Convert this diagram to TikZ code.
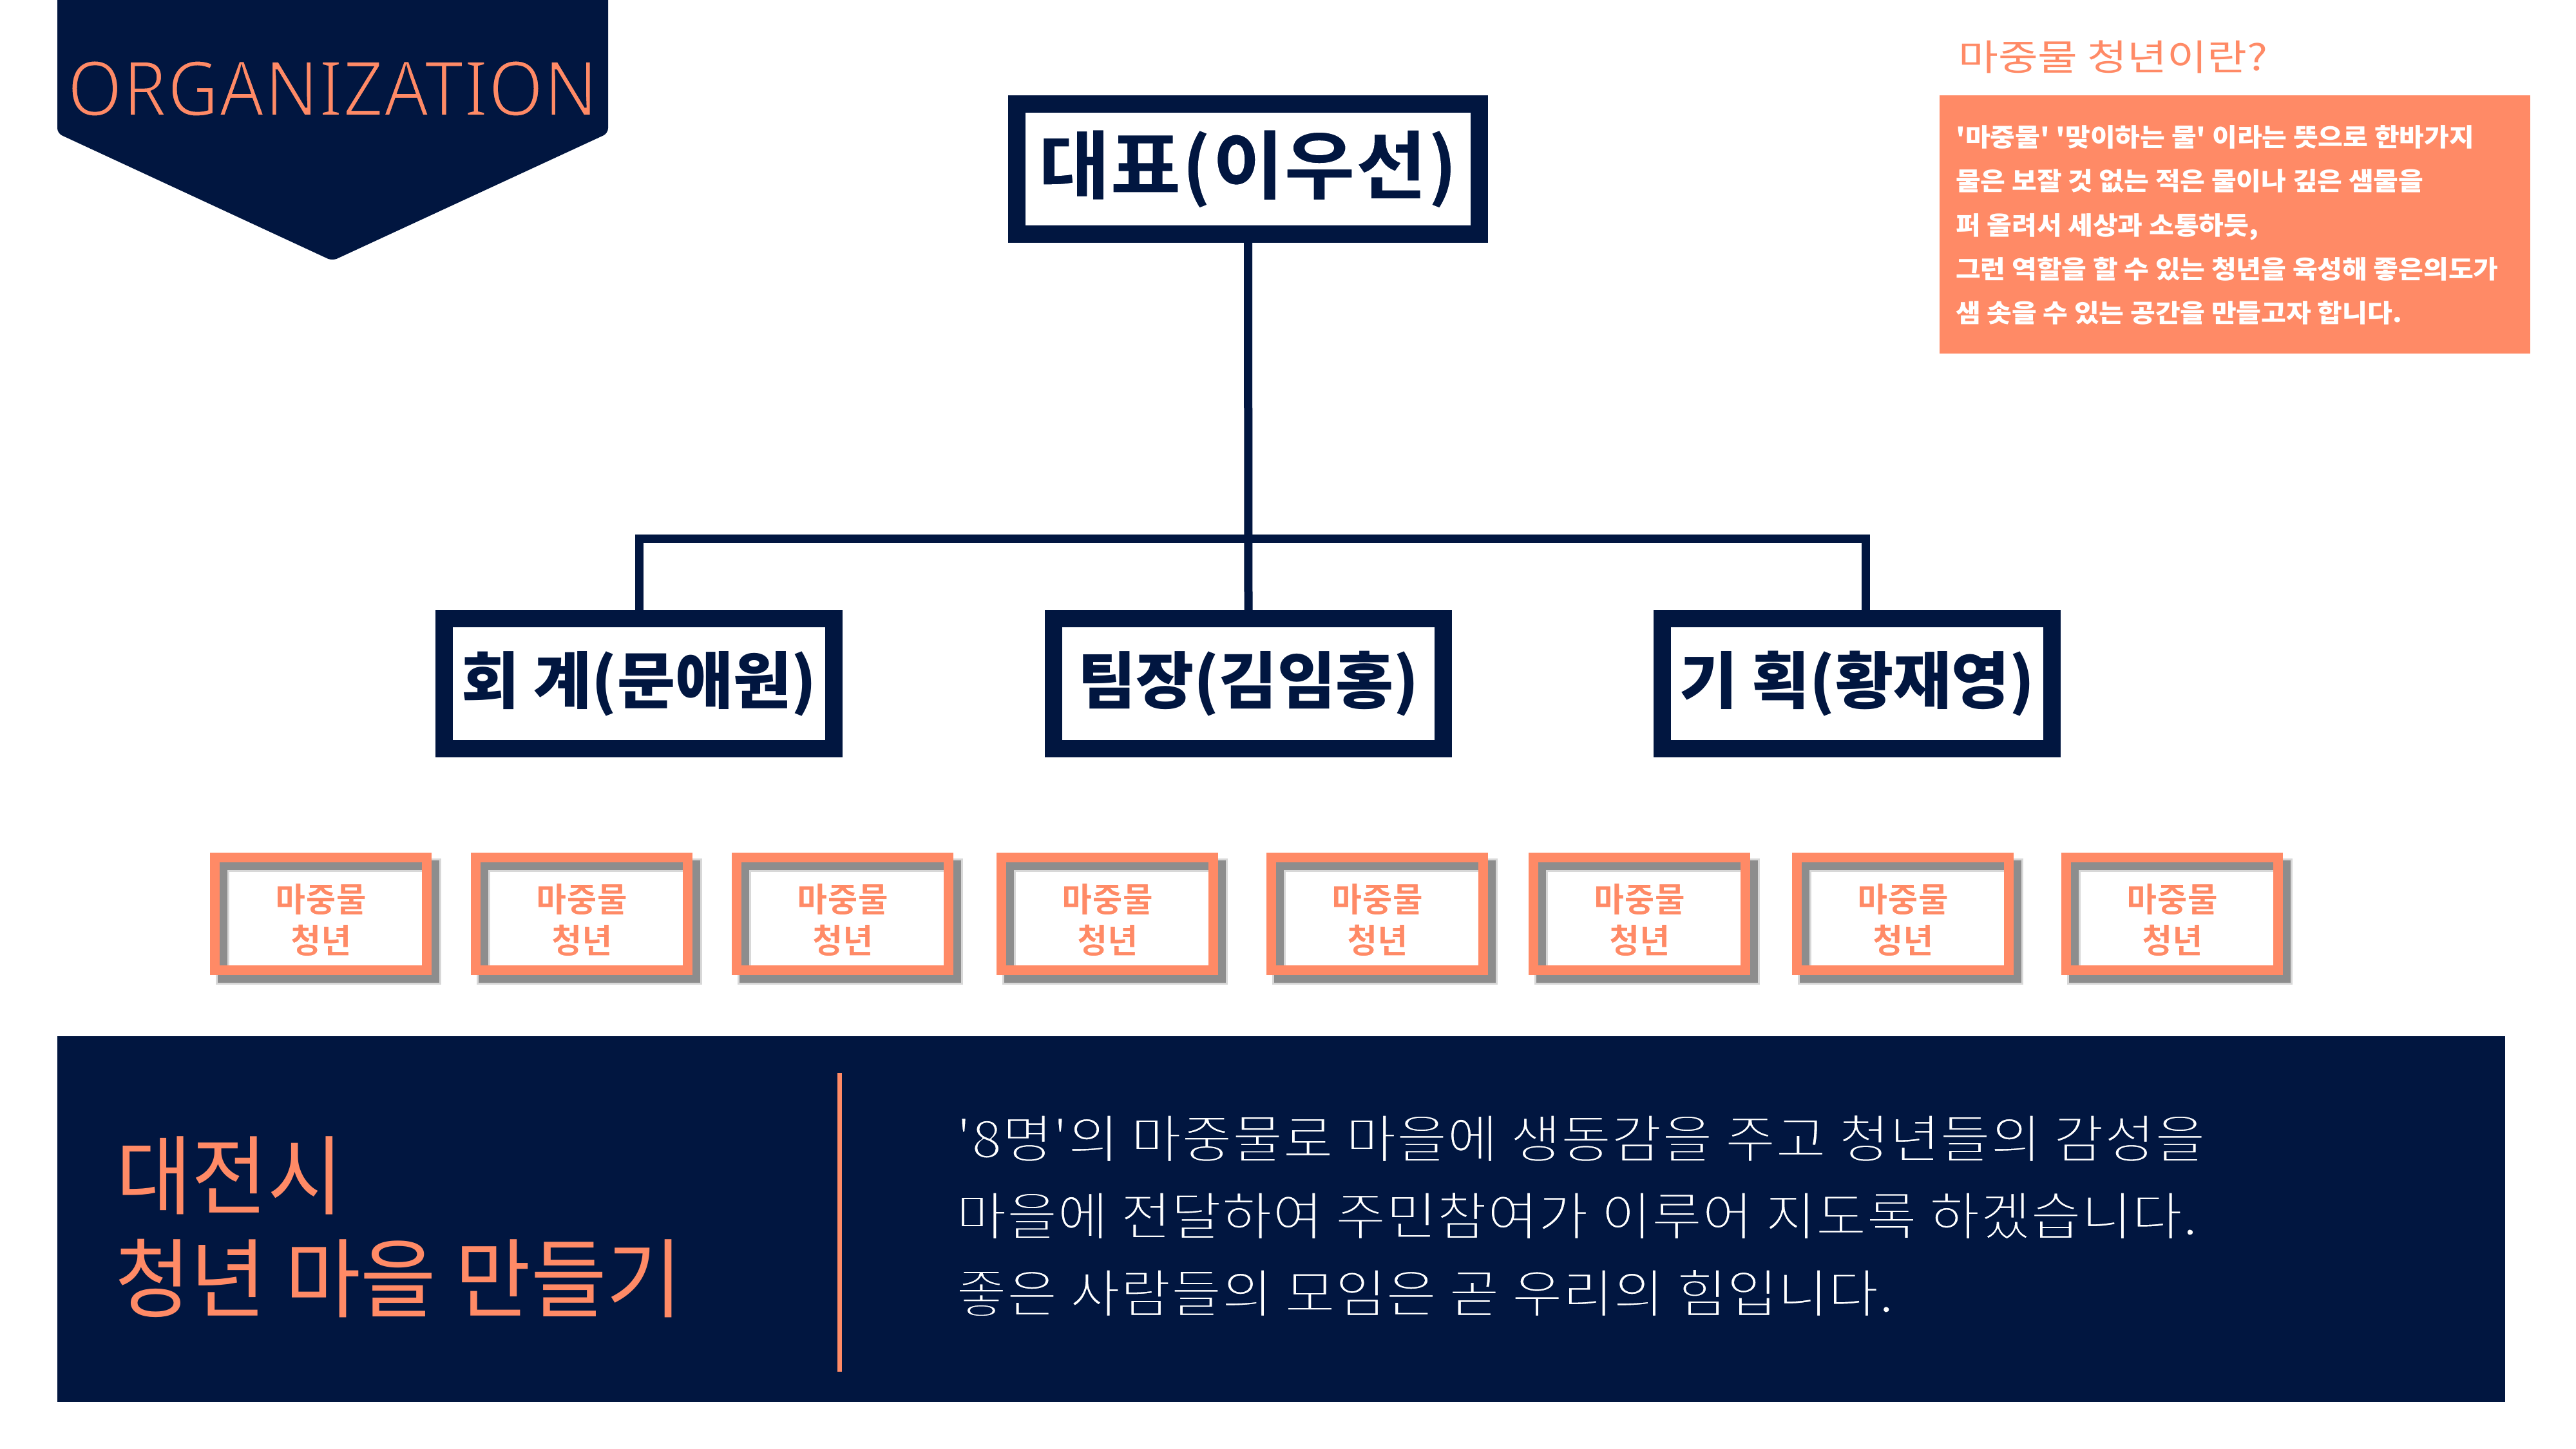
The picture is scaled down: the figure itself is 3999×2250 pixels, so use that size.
\documentclass[tikz,border=0pt]{standalone}
\usepackage{fontspec}
\setmainfont{Noto Sans CJK KR}
\newfontfamily\krTop[FakeStretch=1.03]{Noto Sans CJK KR}
\newfontfamily\krMid[FakeStretch=1.02]{Noto Sans CJK KR}
\newfontfamily\krSmall[FakeStretch=0.97]{Noto Sans CJK KR}
\newfontfamily\krBody[FakeStretch=1.055]{Noto Sans CJK KR}
\newfontfamily\krC[FakeStretch=0.955]{Noto Sans CJK KR}
\newfontfamily\krW[FakeStretch=1.08]{Noto Sans CJK KR}
\newfontfamily\krH[FakeStretch=1.2]{Noto Sans CJK KR}
\newfontfamily\latinA[FakeStretch=0.93]{Noto Sans}
\definecolor{navy}{RGB}{1,22,64}
\definecolor{coral}{RGB}{255,138,102}
\definecolor{shadowgray}{RGB}{128,128,128}
\newcommand\thinon[1]{\special{pdf:literal direct 2 Tr #1 w 0.004 0.086 0.251 RG}}
\newcommand\thinwhite[1]{\special{pdf:literal direct 2 Tr #1 w 1 1 1 RG}}
\newcommand\thinoff{\special{pdf:literal direct 0 Tr}}
\tikzset{
  conn/.style={draw=navy, line width=13pt, line join=miter},
  bigbox/.style={draw=navy, line width=27pt, fill=white, inner sep=0pt,
    minimum height=202pt, text=navy},
  midlabel/.style={bigbox, minimum width=605pt,
    font=\krMid\bfseries\fontsize{96}{110}\selectfont},
  smallbox/.style={draw=coral, line width=15pt, inner sep=0pt,
    minimum width=329pt, minimum height=175pt},
  smalltext/.style={inner sep=0pt, align=center, text=coral,
    font=\krSmall\bfseries\fontsize{53}{64}\selectfont},
  boxshadow/.style={draw=shadowgray, line width=15pt, opacity=0.85},
  boxhalo/.style={draw=shadowgray, line width=21pt, opacity=0.3},
  bodytext/.style={anchor=base west, inner sep=0pt, text=white,
    font=\krBody\fontsize{81}{96}\selectfont},
  notetext/.style={anchor=base west, inner sep=0pt, text=white,
    font=\krW\bfseries\fontsize{39}{50}\selectfont},
  bigtitle/.style={anchor=base west, inner sep=0pt, text=coral,
    font=\krC\fontsize{134}{160}\selectfont}
}
\begin{document}
\begin{tikzpicture}[x=1pt,y=-1pt]
\useasboundingbox (0,0) rectangle (3999,2250);
\fill[white] (0,0) rectangle (3999,2250);

% banner
\fill[navy, rounded corners=8pt] (89,-30) -- (89,207) -- (516,405) -- (944,207) -- (944,-30) -- cycle;
\node[anchor=base, inner sep=0pt, text=coral, font=\latinA\fontsize{119}{130}\selectfont] (org) at (516,180) {\thinon{3.5}ORGANIZATION\thinoff};

% top-right note
\node[anchor=base west, inner sep=0pt, text=coral, font=\krH\fontsize{56}{60}\selectfont] (qtitle) at (3040,110) {마중물 청년이란?};
\fill[coral] (3011,148) rectangle (3928,549);
\node[notetext] (n1) at (3036,228) {'마중물' '맞이하는 물' 이라는 뜻으로 한바가지};
\node[notetext] (n2) at (3036,296) {물은 보잘 것 없는 적은 물이나 깊은 샘물을};
\node[notetext] (n3) at (3036,364) {퍼 올려서 세상과 소통하듯,};
\node[notetext] (n4) at (3036,432) {그런 역할을 할 수 있는 청년을 육성해 좋은의도가};
\node[notetext] (n5) at (3036,500) {샘 솟을 수 있는 공간을 만들고자 합니다.};

% hierarchy
\node[bigbox, minimum width=718pt, font=\krTop\bfseries\fontsize{117}{130}\selectfont] (top) at (1937.5,262.5) {\thinwhite{2.5}대표(이우선)\thinoff};
\node[midlabel] (m1) at (992,1061.5) {회 계(문애원)};
\node[midlabel] (m2) at (1938,1061.5) {팀장(김임홍)};
\node[midlabel] (m3) at (2883,1061.5) {기 획(황재영)};

\coordinate (bl) at (992,836);
\coordinate (br) at (2896,836);
\draw[conn] (top.south) -- (m2.north);
\draw[conn] (m1.north) -- (bl) -- (br) -- (br |- m3.north);

% small boxes
\foreach \i/\x in {1/498,2/903,3/1308,4/1719,5/2138,6/2545,7/2954,8/3372}{
  \draw[boxhalo] (\x-152.5,1343.5) rectangle ++(329,175);
  \draw[boxshadow] (\x-152.5,1343.5) rectangle ++(329,175);
  \node[smallbox] (s\i) at (\x,1419) {};
  \node[smalltext] (t\i) at (\x,1428) {\thinwhite{1.5}마중물\\청년\thinoff};
}

% bottom panel
\fill[navy] (89,1609) rectangle (3889,2177);
\draw[coral, line width=7pt] (1303,1666) -- (1303,2130);
\node[bigtitle] (b1) at (180,1875) {대전시};
\node[bigtitle] (b2) at (178,2035) {청년 마을 만들기};
\node[bodytext] (r1) at (1484,1798) {\thinon{3}'8명'의 마중물로 마을에 생동감을 주고 청년들의 감성을\thinoff};
\node[bodytext] (r2) at (1484,1918) {\thinon{3}마을에 전달하여 주민참여가 이루어 지도록 하겠습니다.\thinoff};
\node[bodytext] (r3) at (1484,2038) {\thinon{3}좋은 사람들의 모임은 곧 우리의 힘입니다.\thinoff};
\end{tikzpicture}
\end{document}
